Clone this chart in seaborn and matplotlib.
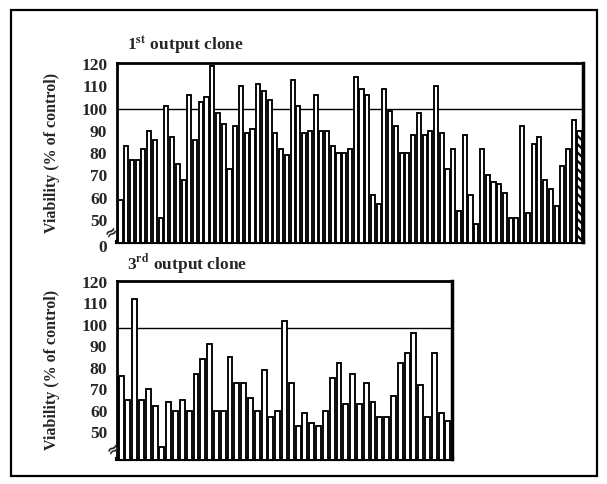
import matplotlib
matplotlib.use("Agg")
import matplotlib.pyplot as plt
import seaborn as sns
import pandas as pd
from matplotlib.patches import Rectangle

# ---- data ----
clone1_values = [59, 83, 77, 77, 82, 90, 86, 51, 101, 87, 75, 68, 106, 86, 103, 105, 119, 98, 93, 73,
                 92, 110, 89, 91, 111, 108, 104, 89, 82, 79, 113, 101, 89, 90, 106, 90, 90, 83, 80, 80,
                 82, 114, 109, 106, 61, 57, 109, 99, 92, 80, 80, 88, 98, 88, 90, 110, 89, 73, 82, 54,
                 88, 61, 48, 82, 70, 67, 66, 62, 51, 51, 92, 53, 84, 87, 68, 64, 56, 74, 82, 95, 90]
clone3_values = [76, 65, 112, 65, 70, 62, 43, 64, 60, 65, 60, 77, 84, 91, 60, 60, 85, 73, 73, 66,
                 60, 79, 57, 60, 102, 73, 53, 59, 54, 53, 60, 75, 82, 63, 77, 63, 73, 64, 57, 57,
                 67, 82, 87, 96, 72, 57, 87, 59, 55]
tick_values = [50, 60, 70, 80, 90, 100, 110, 120]
tick_labels = ["50", "60", "70", "80", "90", "100", "110", "120"]
titles = ["1", "3"]
title_sups = ["st", "rd"]
ylabel = "Viability (% of control)"
ref_lines = [100, 98.5]

sns.set_theme(style="white")
plt.rcParams["font.family"] = ["Liberation Serif", "DejaVu Serif"]
plt.rcParams["font.weight"] = "bold"
plt.rcParams["mathtext.fontset"] = "stix"
plt.rcParams["hatch.linewidth"] = 1.6

W, H = 607, 484
fig = plt.figure(figsize=(W / 100, H / 100), dpi=100)
fig.patch.set_facecolor("white")


def fbox(x0, y0, x1, y1):
    return [x0 / W, 1 - y1 / H, (x1 - x0) / W, (y1 - y0) / H]


ax1 = fig.add_axes(fbox(117, 63, 583, 242))
ax2 = fig.add_axes(fbox(117, 281, 452, 459))

df1 = pd.DataFrame({"clone": range(len(clone1_values)), "v": clone1_values})
df2 = pd.DataFrame({"clone": range(len(clone3_values)), "v": clone3_values})

for ax, df, lo, ref in [(ax1, df1, 40, ref_lines[0]), (ax2, df2, 37.4, ref_lines[1])]:
    sns.barplot(data=df, x="clone", y="v", color="white", edgecolor="black",
                linewidth=1.35, width=0.72, saturation=1, ax=ax, zorder=3)
    ax.set_ylim(lo, 120.5)
    ax.set_xlim(-0.6, len(df) - 0.4)
    ax.axhline(ref, color="black", lw=1.0, zorder=2)
    ax.set_xticks([])
    ax.set_xlabel("")
    ax.set_yticks(tick_values)
    ax.set_yticklabels(tick_labels, fontsize=12.5, fontweight="bold")
    ax.tick_params(axis="y", length=0, pad=7)
    ax.set_ylabel(ylabel, fontsize=11.5, fontweight="bold", labelpad=15)
    ax.set_facecolor("white")
    for side, lw in [("left", 2.0), ("top", 2.0), ("right", 2.5), ("bottom", 3.0)]:
        ax.spines[side].set_visible(True)
        ax.spines[side].set_color("black")
        ax.spines[side].set_linewidth(lw)
    # axis break mark
    ax.text(-0.012, lo + 4.5, "≈", transform=ax.get_yaxis_transform(), ha="center",
            va="center", fontsize=11, fontweight="bold", rotation=35, clip_on=False,
            family="DejaVu Sans")

# hatched last bar in top chart
ax1.patches[len(clone1_values) - 1].set_hatch("\\\\\\\\")

# "0" label at the bottom of the top chart
ax1.text(-10 / 466, 37.3, "0", transform=ax1.get_yaxis_transform(), ha="right",
         va="center", fontsize=12.5, fontweight="bold", clip_on=False)

# titles
fig.text(127 / W, 1 - 45 / H, titles[0] + r"$^{\bf " + title_sups[0] + "}$ output clone",
         fontsize=12.5, fontweight="bold", ha="left", va="center")
fig.text(127 / W, 1 - 265 / H, titles[1] + r"$^{\bf " + title_sups[1] + "}$ output clone",
         fontsize=12.5, fontweight="bold", ha="left", va="center")

# outer frame
fig.add_artist(Rectangle((11 / W, 1 - 476 / H), 586 / W, 466 / H, transform=fig.transFigure,
                         fill=False, edgecolor="black", lw=1.6))

fig.savefig("out.png", dpi=100, facecolor="white")
